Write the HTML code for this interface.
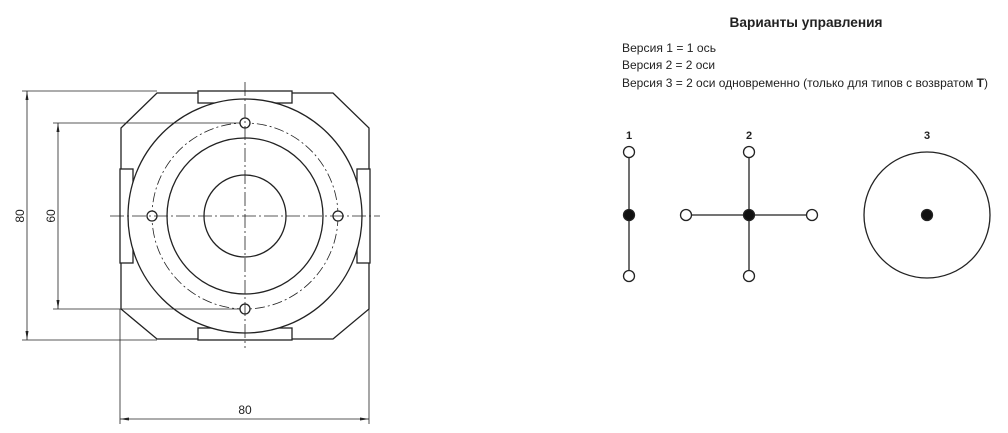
<!DOCTYPE html>
<html><head><meta charset="utf-8"><style>
html,body{margin:0;padding:0;background:#fff;width:1008px;height:433px;overflow:hidden}
svg{display:block}
text{font-family:"Liberation Sans",sans-serif;fill:#222}
</style></head><body>
<svg width="1008" height="433" viewBox="0 0 1008 433" xmlns="http://www.w3.org/2000/svg">
<g fill="none" stroke="#222" stroke-width="1.3">
<!-- octagon -->
<polygon points="157,93 333,93 369,128 369,309 333,339 157,339 121,309 121,128" fill="#fff"/>
<!-- tabs -->
<rect x="198" y="91" width="94" height="12" fill="#fff"/>
<rect x="198" y="328" width="94" height="12" fill="#fff"/>
<rect x="120" y="169" width="13" height="94" fill="#fff"/>
<rect x="357" y="169" width="13" height="94" fill="#fff"/>
<circle cx="245" cy="216" r="117" fill="#fff"/>
<circle cx="245" cy="216" r="93" stroke-width="0.8" stroke-dasharray="10,3,2,3"/>
<circle cx="245" cy="216" r="78"/>
<circle cx="245" cy="216" r="41"/>
<circle cx="245" cy="123" r="5" fill="#fff"/>
<circle cx="245" cy="309" r="5" fill="#fff"/>
<circle cx="152" cy="216" r="5" fill="#fff"/>
<circle cx="338" cy="216" r="5" fill="#fff"/>
</g>
<g stroke="#222" stroke-width="0.8" fill="none">
<line x1="110" y1="216" x2="380" y2="216" stroke-dasharray="14,3,2,3"/>
<line x1="245" y1="82" x2="245" y2="348" stroke-dasharray="14,3,2,3"/>
<!-- dims -->
<line x1="22" y1="91" x2="157" y2="91"/>
<line x1="22" y1="340" x2="157" y2="340"/>
<line x1="27" y1="91" x2="27" y2="340"/>
<line x1="53" y1="123" x2="240" y2="123"/>
<line x1="53" y1="309" x2="240" y2="309"/>
<line x1="58" y1="123" x2="58" y2="309"/>
<line x1="120" y1="309" x2="120" y2="424"/>
<line x1="369" y1="309" x2="369" y2="424"/>
<line x1="120" y1="419" x2="369" y2="419"/>
</g>
<g fill="#222">
<polygon points="27,91 25.5,100 28.5,100"/><polygon points="27,340 25.5,331 28.5,331"/>
<polygon points="58,123 56.5,132 59.5,132"/><polygon points="58,309 56.5,300 59.5,300"/>
<polygon points="120,419 129,417.5 129,420.5"/><polygon points="369,419 360,417.5 360,420.5"/>
</g>
<text x="0" y="0" font-size="12" text-anchor="middle" transform="translate(24,216) rotate(-90)">80</text>
<text x="0" y="0" font-size="12" text-anchor="middle" transform="translate(55,216) rotate(-90)">60</text>
<text x="245" y="414" font-size="12" text-anchor="middle">80</text>

<text x="806" y="27" font-size="14" font-weight="bold" text-anchor="middle" textLength="153" lengthAdjust="spacingAndGlyphs">Варианты управления</text>
<text x="622" y="52" font-size="12" textLength="94" lengthAdjust="spacingAndGlyphs">Версия 1 = 1 ось</text>
<text x="622" y="69" font-size="12" textLength="93" lengthAdjust="spacingAndGlyphs">Версия 2 = 2 оси</text>
<text x="622" y="87" font-size="12" textLength="366" lengthAdjust="spacingAndGlyphs">Версия 3 = 2 оси одновременно (только для типов с возвратом <tspan font-weight="bold">T</tspan>)</text>

<text x="629" y="139" font-size="11" font-weight="bold" text-anchor="middle">1</text>
<text x="749" y="139" font-size="11" font-weight="bold" text-anchor="middle">2</text>
<text x="927" y="139" font-size="11" font-weight="bold" text-anchor="middle">3</text>
<g stroke="#222" stroke-width="1.3" fill="#fff">
<line x1="629" y1="152" x2="629" y2="276"/>
<circle cx="629" cy="152" r="5.5"/><circle cx="629" cy="276" r="5.5"/>
<circle cx="629" cy="215" r="5.5" fill="#111"/>
<line x1="749" y1="152" x2="749" y2="276"/>
<line x1="686" y1="215" x2="812" y2="215"/>
<circle cx="749" cy="152" r="5.5"/><circle cx="749" cy="276" r="5.5"/>
<circle cx="686" cy="215" r="5.5"/><circle cx="812" cy="215" r="5.5"/>
<circle cx="749" cy="215" r="5.5" fill="#111"/>
<circle cx="927" cy="215" r="63" fill="none"/>
<circle cx="927" cy="215" r="5.5" fill="#111"/>
</g>
</svg>
</body></html>
